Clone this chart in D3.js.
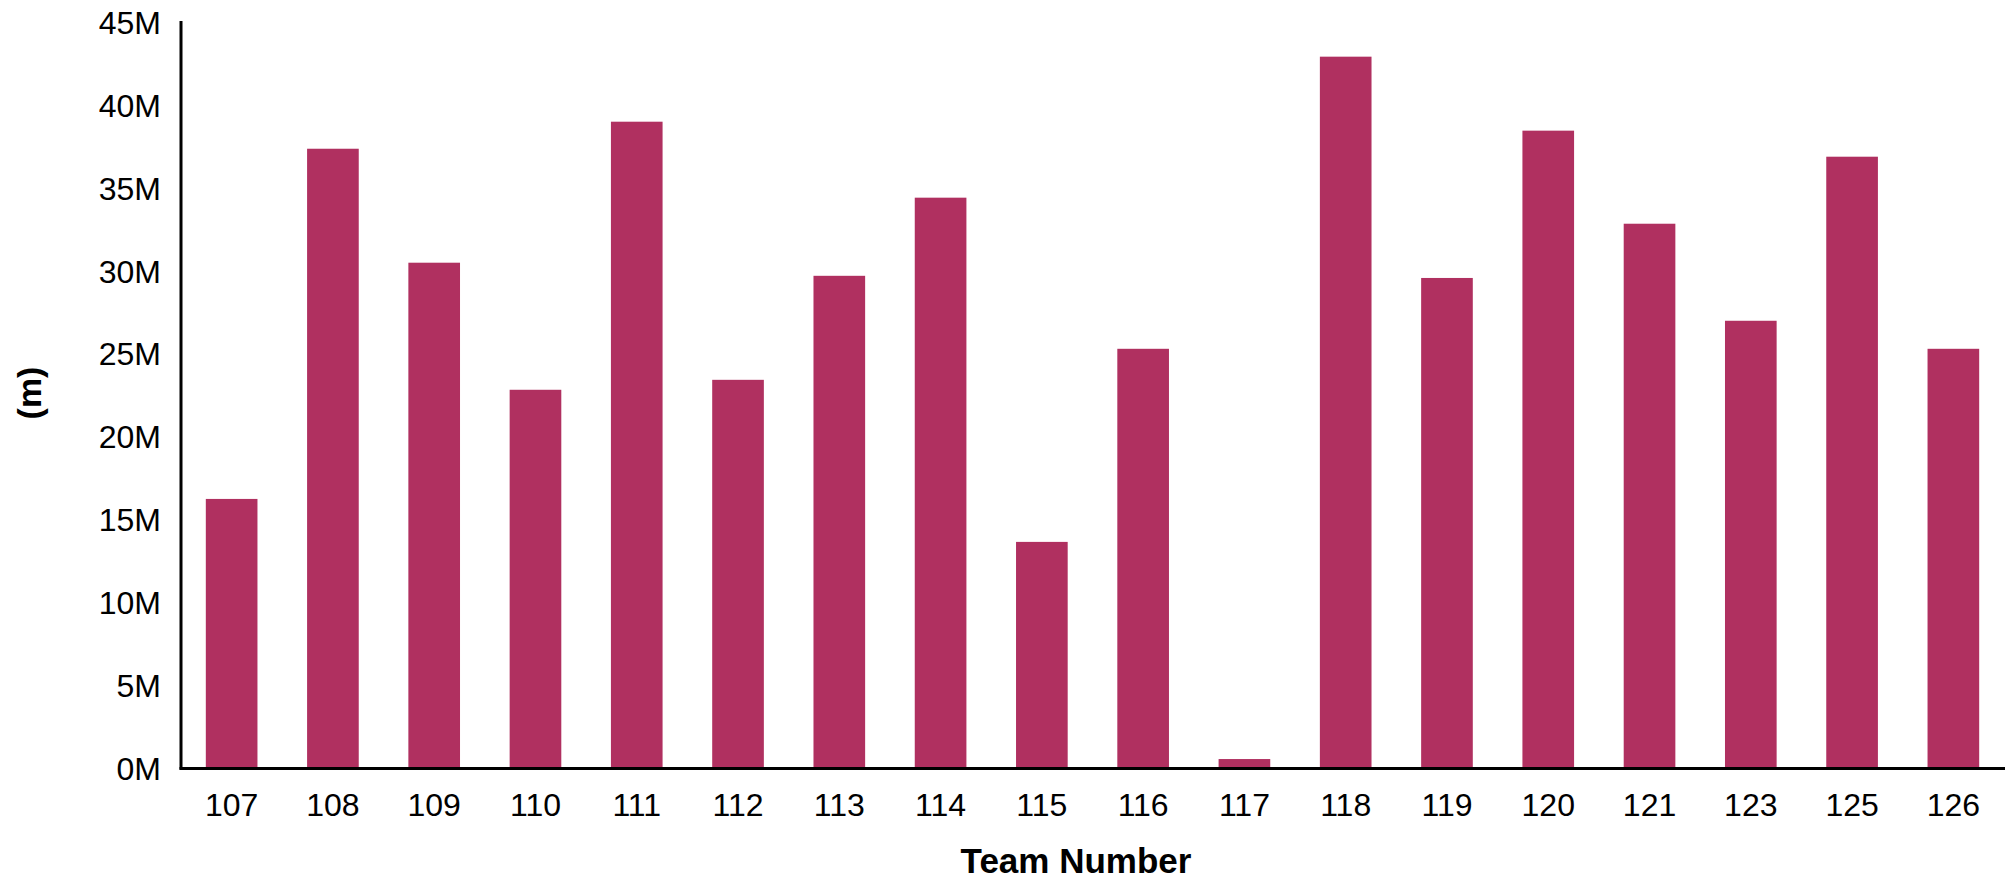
<!DOCTYPE html>
<html><head><meta charset="utf-8">
<script src="https://cdn.jsdelivr.net/npm/d3@7"></script>
<style>body{margin:0;background:#fff}svg{display:block}</style>
</head><body>
<svg id="chart" width="2010" height="880"></svg>
<script>
const categories = ["107","108","109","110","111","112","113","114","115","116","117","118","119","120","121","123","125","126"];
const values = [16.25,37.36,30.49,22.83,38.99,23.43,29.70,34.41,13.66,25.30,0.57,42.91,29.57,38.45,32.84,26.99,36.88,25.30];
const yTicks = [0,5,10,15,20,25,30,35,40,45];
const xTitle = "Team Number";
const yTitle = "(m)";

const svg = d3.select("#chart");
const mLeft = 181, mRight = 2004, mTop = 22, mBottom = 768.5;
const x = d3.scaleBand().domain(categories).range([mLeft, mRight]).paddingInner(0.49).paddingOuter(0.245);
const y = d3.scaleLinear().domain([0,45]).range([mBottom, mTop]);

svg.selectAll("rect.bar").data(values).join("rect")
  .attr("class","bar")
  .attr("x",(d,i)=>x(categories[i]))
  .attr("y",d=>y(d))
  .attr("width",x.bandwidth())
  .attr("height",d=>y(0)-y(d))
  .attr("fill","#b03060");

const yAxis = svg.append("g").attr("transform",`translate(${mLeft},0)`)
  .call(d3.axisLeft(y).tickValues(yTicks).tickFormat(d=>d+"M").tickSize(0).tickPadding(20));
yAxis.select(".domain").attr("stroke","#000").attr("stroke-width",3).attr("d",`M0,${mTop-1}V${mBottom+1}`);
yAxis.selectAll("text").attr("font-family","'Liberation Sans', Arial, sans-serif").attr("font-size",32).attr("fill","#000").attr("dy","0.35em");

const xAxis = svg.append("g").attr("transform",`translate(0,${mBottom})`)
  .call(d3.axisBottom(x).tickSize(0).tickPadding(25));
xAxis.select(".domain").attr("stroke","#000").attr("stroke-width",3).attr("d",`M${mLeft-1.5},0H${mRight+1}`);
xAxis.selectAll("text").attr("font-family","'Liberation Sans', Arial, sans-serif").attr("font-size",32).attr("fill","#000");

svg.append("text").attr("x",1076).attr("y",873).attr("text-anchor","middle")
  .attr("font-family","'Liberation Sans', Arial, sans-serif").attr("font-weight","bold").attr("font-size",35).text(xTitle);
svg.append("text").attr("transform","translate(41,393) rotate(-90)").attr("text-anchor","middle")
  .attr("font-family","'Liberation Sans', Arial, sans-serif").attr("font-weight","bold").attr("font-size",34).text(yTitle);
</script>
</body></html>
